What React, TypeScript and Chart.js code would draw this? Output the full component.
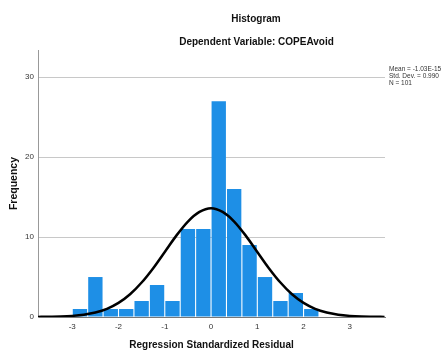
import React, { useEffect, useRef } from "react";
import { Chart, registerables } from "chart.js";

Chart.register(...registerables);

// Histogram bins (width 1/3, centres) and counts
const binCenters = [
  -2.8333, -2.5, -2.1667, -1.8333, -1.5, -1.1667, -0.8333, -0.5, -0.1667,
  0.1667, 0.5, 0.8333, 1.1667, 1.5, 1.8333, 2.1667,
];
const counts = [1, 5, 1, 1, 2, 4, 2, 11, 11, 27, 16, 9, 5, 2, 3, 1];

// Normal curve
const curveX = [
  -3.75, -3.5, -3.25, -3, -2.75, -2.5, -2.25, -2, -1.75, -1.5, -1.25, -1, -0.75,
  -0.5, -0.25, 0, 0.25, 0.5, 0.75, 1, 1.25, 1.5, 1.75, 2, 2.25, 2.5, 2.75, 3,
  3.25, 3.5, 3.75,
];
const curveY = [
  0.01, 0.03, 0.06, 0.14, 0.29, 0.56, 1.02, 1.76, 2.84, 4.31, 6.11, 8.14, 10.18,
  11.94, 13.14, 13.6, 13.14, 11.94, 10.18, 8.14, 6.11, 4.31, 2.84, 1.76, 1.02,
  0.56, 0.29, 0.14, 0.06, 0.03, 0.01,
];

const xTicks = [-3, -2, -1, 0, 1, 2, 3];
const yTicks = [0, 10, 20, 30];

const titleText = "Histogram";
const subtitleText = "Dependent Variable: COPEAvoid";
const xTitle = "Regression Standardized Residual";
const yTitle = "Frequency";
const statsLines = ["Mean = -1.03E-15", "Std. Dev. = 0.990", "N = 101"];

const FONT = "'Liberation Sans', Arial, sans-serif";

const textPlugin = {
  id: "spssText",
  afterDraw(chart: any) {
    const ctx = chart.ctx;
    ctx.save();
    ctx.fillStyle = "#111";
    ctx.textAlign = "center";
    ctx.textBaseline = "middle";
    ctx.font = `bold 10px ${FONT}`;
    ctx.fillText(titleText, 256, 19.5);
    ctx.fillText(subtitleText, 256.5, 42);
    ctx.textAlign = "left";
    ctx.fillStyle = "#333";
    ctx.font = `6.5px ${FONT}`;
    statsLines.forEach((s, i) => ctx.fillText(s, 389, 69.5 + i * 7));
    ctx.restore();
  },
};

export default function App() {
  const ref = useRef<HTMLCanvasElement>(null);
  useEffect(() => {
    if (!ref.current) return;
    const chart = new Chart(ref.current, {
      type: "bar",
      data: {
        datasets: [
          {
            type: "line",
            data: curveX.map((x, i) => ({ x, y: curveY[i] })),
            borderColor: "#000",
            borderWidth: 2.5,
            pointRadius: 0,
            cubicInterpolationMode: "monotone",
            order: 0,
          } as any,
          {
            type: "bar",
            data: binCenters.map((x, i) => ({ x, y: counts[i] })),
            backgroundColor: "#1E8FE6",
            borderWidth: 0,
            barPercentage: 0.93,
            categoryPercentage: 1,
            order: 1,
          } as any,
        ],
      },
      options: {
        responsive: false,
        animation: false,
        layout: { padding: { left: 0, top: 50, right: 56, bottom: 0 } },
        plugins: {
          legend: { display: false },
          tooltip: { enabled: false },
        },
        scales: {
          x: {
            type: "linear",
            min: -3.74,
            max: 3.76,
            offset: false,
            afterFit: (s: any) => {
              s.height = 35;
            },
            afterBuildTicks: (s: any) => {
              s.ticks = xTicks.map((v) => ({ value: v }));
            },
            ticks: {
              padding: 5,
              color: "#333",
              font: { family: FONT, size: 8 },
              callback: (v: any) => String(v),
            },
            grid: { display: false, drawTicks: false },
            border: { display: true, color: "#777", width: 1 },
            title: {
              display: true,
              text: xTitle,
              color: "#111",
              font: { family: FONT, size: 10, weight: "bold" },
              padding: { top: 0, bottom: 1 },
            },
          },
          y: {
            type: "linear",
            min: 0,
            max: 33.4,
            afterFit: (s: any) => {
              s.width = 38;
            },
            afterBuildTicks: (s: any) => {
              s.ticks = yTicks.map((v) => ({ value: v }));
            },
            ticks: {
              padding: 4,
              color: "#333",
              font: { family: FONT, size: 8 },
            },
            grid: { color: "#c8c8c8", lineWidth: 1, drawTicks: false },
            border: { display: true, color: "#999", width: 1 },
            title: {
              display: true,
              text: yTitle,
              color: "#111",
              font: { family: FONT, size: 10.5, weight: "bold" },
              padding: { top: 8, bottom: 0 },
            },
          },
        },
      } as any,
      plugins: [textPlugin],
    });
    return () => chart.destroy();
  }, []);
  return (
    <div style={{ position: "fixed", left: 0, top: 0, width: 441, height: 352, background: "#fff" }}>
      <canvas ref={ref} width={441} height={352} style={{ display: "block" }} />
    </div>
  );
}
